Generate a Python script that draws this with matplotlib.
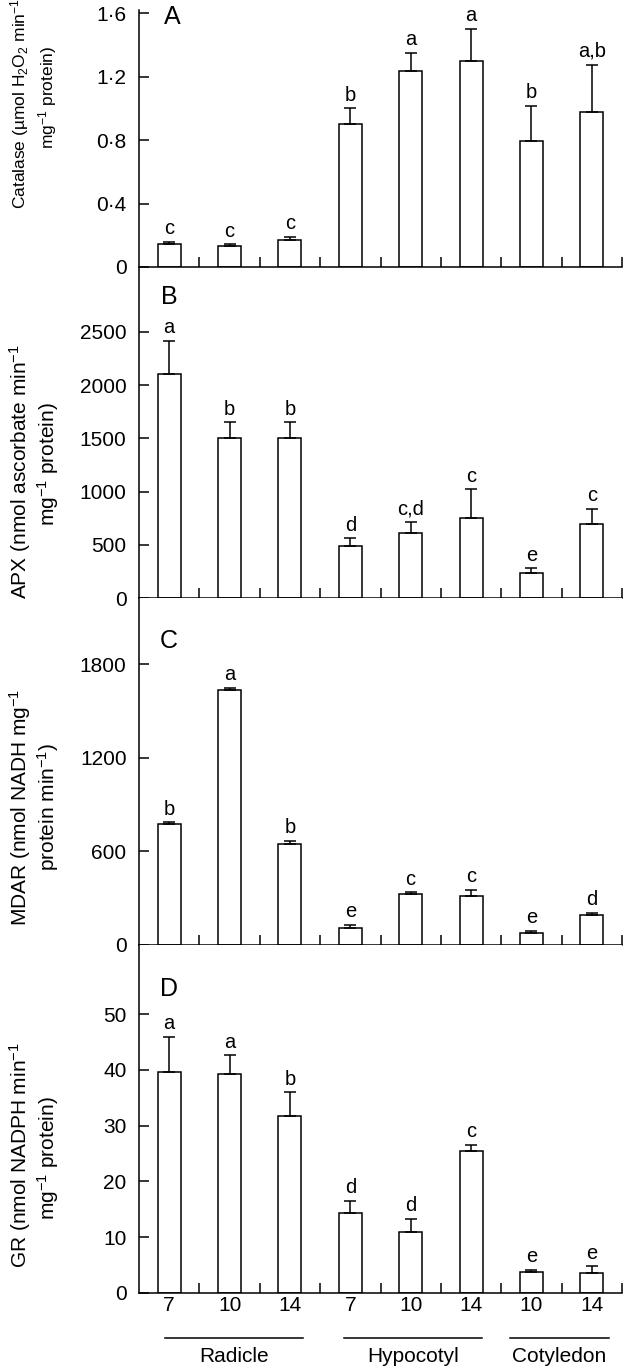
import matplotlib
matplotlib.use("Agg")
import matplotlib.pyplot as plt
from matplotlib.ticker import FuncFormatter
import matplotlib.transforms as mtransforms
import numpy as np

plt.rcParams['font.family'] = ['Liberation Sans', 'DejaVu Sans']
plt.rcParams['mathtext.fontset'] = 'custom'
plt.rcParams['mathtext.rm'] = 'Liberation Sans'
plt.rcParams['mathtext.it'] = 'Liberation Sans:italic'

# days after imbibition, per tissue
day_labels = ['7', '10', '14', '7', '10', '14', '10', '14']
groups = ['Radicle', 'Hypocotyl', 'Cotyledon']
group_spans = [(0.43, 2.72), (3.39, 5.68), (6.14, 7.78)]

catalase = [0.145, 0.13, 0.17, 0.90, 1.235, 1.295, 0.795, 0.975]
catalase_err = [0.015, 0.012, 0.02, 0.10, 0.115, 0.205, 0.22, 0.30]
catalase_sig = ['c', 'c', 'c', 'b', 'a', 'a', 'b', 'a,b']

apx = [2105, 1505, 1500, 490, 615, 755, 238, 700]
apx_err = [310, 145, 150, 70, 100, 265, 40, 140]
apx_sig = ['a', 'b', 'b', 'd', 'c,d', 'c', 'e', 'c']

mdar = [773, 1634, 645, 111, 325, 316, 75, 190]
mdar_err = [13, 14, 22, 17, 12, 36, 15, 17]
mdar_sig = ['b', 'a', 'b', 'e', 'c', 'c', 'e', 'd']

gr = [39.7, 39.2, 31.8, 14.3, 10.9, 25.4, 3.8, 3.5]
gr_err = [6.2, 3.4, 4.2, 2.2, 2.4, 1.2, 0.3, 1.3]
gr_sig = ['a', 'a', 'b', 'd', 'd', 'c', 'e', 'e']

W, H = 633, 1369
fig = plt.figure(figsize=(W / 100, H / 100), dpi=100)

def px_box(top, bottom, left=139, right=622):
    return [left / W, 1 - bottom / H, (right - left) / W, (bottom - top) / H]

panels = [
    dict(vals=catalase, err=catalase_err, sig=catalase_sig, box=(10, 267), ylim=1.619,
         yticks=[0, 0.4, 0.8, 1.2, 1.6], letter='A', letter_pos=(172, 17),
         label=['Catalase (µmol H$_2$O$_2$ min$^{-1}$', 'mg$^{-1}$ protein)'],
         label_y=(103, 97), label_size=12.5),
    dict(vals=apx, err=apx_err, sig=apx_sig, box=(268, 598), ylim=3101,
         yticks=[0, 500, 1000, 1500, 2000, 2500], letter='B', letter_pos=(169, 297),
         label=['APX (nmol ascorbate min$^{-1}$', 'mg$^{-1}$ protein)'],
         label_y=(472, 464), label_size=15),
    dict(vals=mdar, err=mdar_err, sig=mdar_sig, box=(598, 945), ylim=2223,
         yticks=[0, 600, 1200, 1800], letter='C', letter_pos=(169, 641),
         label=['MDAR (nmol NADH mg$^{-1}$', 'protein min$^{-1}$)'],
         label_y=(807, 807), label_size=15),
    dict(vals=gr, err=gr_err, sig=gr_sig, box=(945, 1293), ylim=62.4,
         yticks=[0, 10, 20, 30, 40, 50], letter='D', letter_pos=(169, 989),
         label=['GR (nmol NADPH min$^{-1}$', 'mg$^{-1}$ protein)'],
         label_y=(1155, 1158), label_size=15),
]

def fmt(v, pos):
    if v == 0:
        return '0'
    if float(v).is_integer():
        return '%d' % v
    return ('%.1f' % v).replace('.', '·')

x = np.arange(len(day_labels)) + 0.5
axes = []
for i, p in enumerate(panels):
    ax = fig.add_axes(px_box(*p['box']))
    axes.append(ax)
    n = len(p['vals'])
    ax.bar(x, p['vals'], width=0.38, color='white', edgecolor='black', linewidth=1.1,
           yerr=[np.zeros(n), p['err']], capsize=4.5,
           error_kw=dict(elinewidth=1.1, capthick=1.1, ecolor='black'))
    for xi, v, e, s in zip(x, p['vals'], p['err'], p['sig']):
        ax.annotate(s, (xi, v + e), xytext=(0, 5.5), textcoords='offset points',
                    ha='center', va='baseline', fontsize=14.5)
    ax.set_xlim(0, len(day_labels))
    ax.set_ylim(0, p['ylim'])
    ax.set_yticks(p['yticks'])
    ax.yaxis.set_major_formatter(FuncFormatter(fmt))
    ax.tick_params(axis='y', direction='in', length=7, width=1.1, labelsize=15, pad=9)
    ax.set_xticks(np.arange(1, len(day_labels) + 1), minor=True)
    ax.tick_params(axis='x', which='minor', direction='in', length=7, width=1.1)
    ax.set_xticks(x)
    if i == len(panels) - 1:
        ax.set_xticklabels(day_labels)
        ax.tick_params(axis='x', which='major', length=0, labelsize=15, pad=2)
    else:
        ax.tick_params(axis='x', which='major', length=0, labelbottom=False)
    for side in ['top', 'right']:
        ax.spines[side].set_visible(False)
    for side in ['left', 'bottom']:
        ax.spines[side].set_linewidth(1.1)
    lx, ly = p['letter_pos']
    fig.text(lx / W, 1 - ly / H, p['letter'], fontsize=18, ha='center', va='center')
    fig.text(20 / W, 1 - p['label_y'][0] / H, p['label'][0], rotation=90,
             ha='center', va='center', fontsize=p['label_size'])
    fig.text(48 / W, 1 - p['label_y'][1] / H, p['label'][1], rotation=90,
             ha='center', va='center', fontsize=p['label_size'])

# tissue group brackets under the bottom panel
ax = axes[-1]
trans = mtransforms.blended_transform_factory(ax.transData, fig.transFigure)
for name, (x0, x1) in zip(groups, group_spans):
    ax.plot([x0, x1], [1 - 1338 / H] * 2, color='black', lw=1.1,
            transform=trans, clip_on=False)
    ax.text((x0 + x1) / 2, 1 - 1356 / H, name, transform=trans,
            ha='center', va='center', fontsize=15)

fig.savefig('out.png', dpi=100)
